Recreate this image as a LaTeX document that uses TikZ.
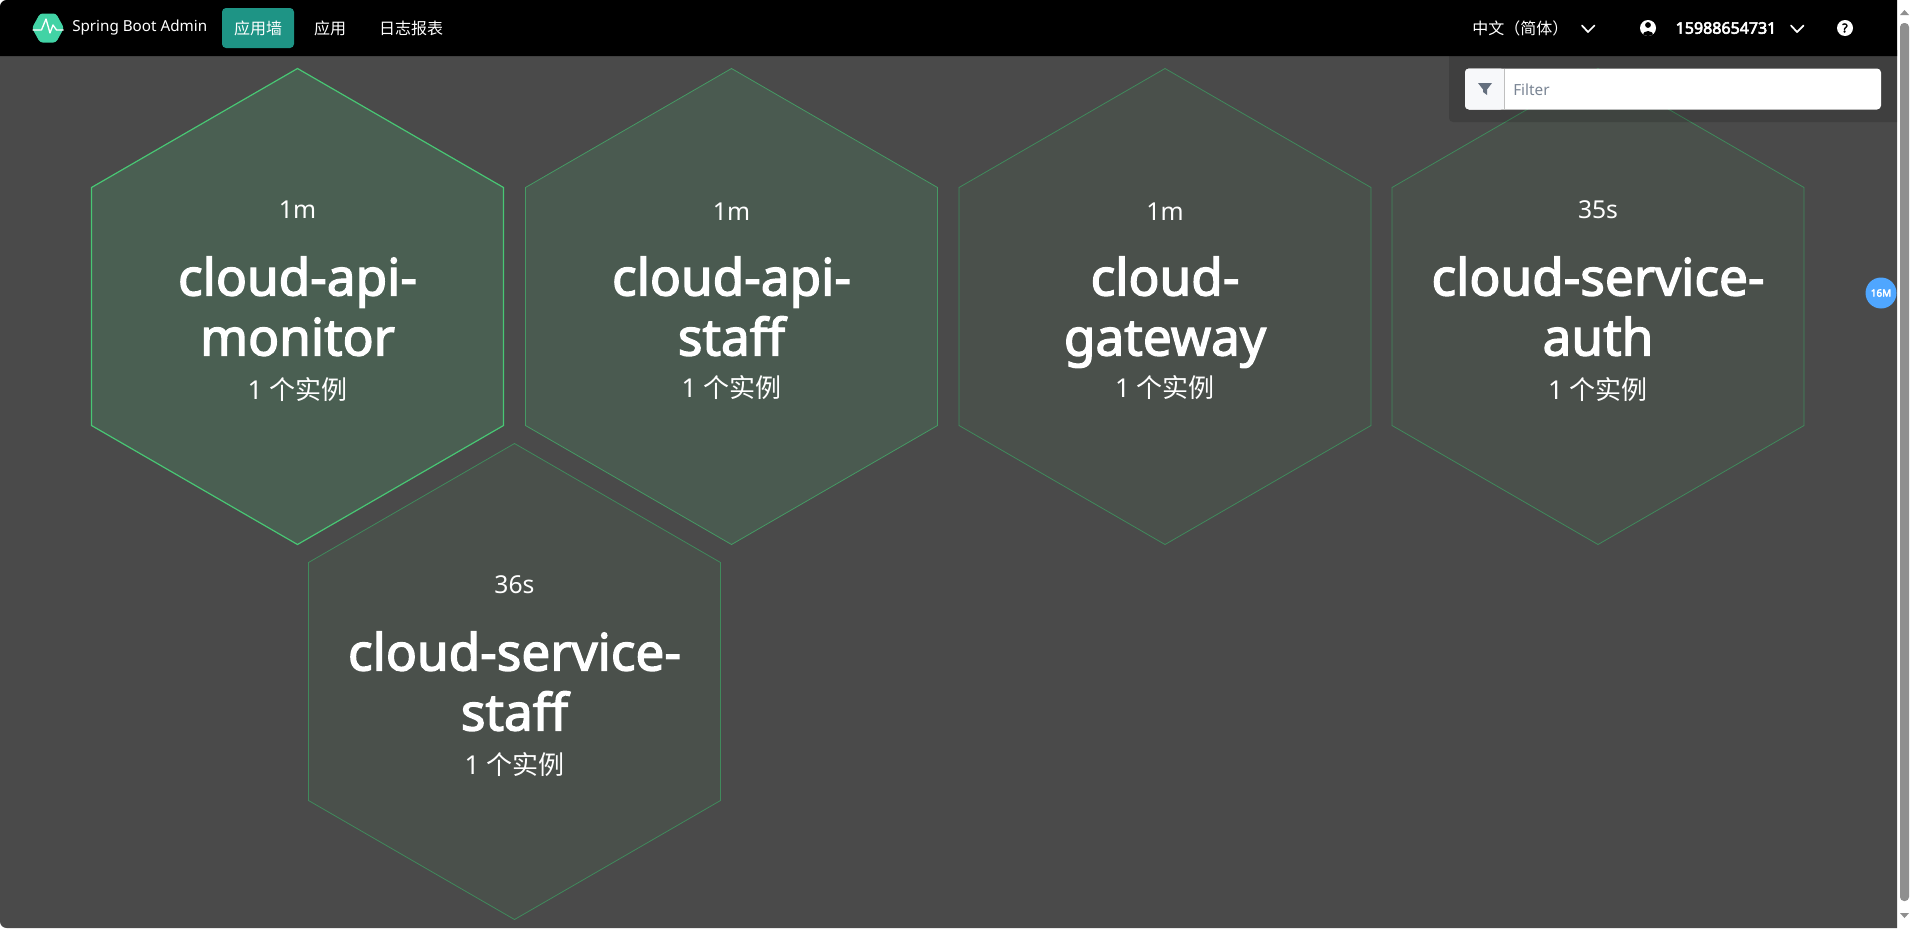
\documentclass[tikz,border=0pt]{standalone}
\usepackage{fontspec}
\setmainfont{Noto Sans}
\newfontfamily\cjk{Noto Sans CJK SC}
\newfontfamily\heavy[FakeBold=2.6]{Noto Sans}
\newfontfamily\heavier[FakeBold=3.5]{Noto Sans}
\usetikzlibrary{positioning}
\definecolor{pagebg}{HTML}{4A4A4A}
\definecolor{hexfillA}{HTML}{4A5F52}
\definecolor{hexfillB}{HTML}{4A5A50}
\definecolor{hexfillC}{HTML}{4A504B}
\definecolor{hexlineA}{HTML}{48C774}
\definecolor{hexlineB}{HTML}{459A64}
\definecolor{hexlineC}{HTML}{408A5C}
\definecolor{logogreen}{HTML}{42D3A5}
\definecolor{navactive}{HTML}{1E9485}
\definecolor{badgeblue}{HTML}{4FA6FF}
\definecolor{addonbg}{HTML}{F7F8FA}
\definecolor{funnelgrey}{HTML}{646F7E}
\definecolor{filtertext}{HTML}{7A8594}
\definecolor{thumbgrey}{HTML}{8F8F8F}
\tikzset{x=0.75pt, y=-0.75pt,
         every node/.style={inner sep=0pt, text=white},
         navtext/.style={font=\fontsize{11.4}{14}\selectfont},
         navcjk/.style={font=\fontsize{12}{14}\cjk\selectfont},
         agetext/.style={anchor=base, font=\fontsize{18.5}{22}\selectfont},
         titletext/.style={anchor=base, font=\fontsize{38.5}{45}\heavy\selectfont},
         counttext/.style={anchor=base, font=\fontsize{19.5}{23}\selectfont},
         hexA/.style={draw=hexlineA, fill=hexfillA, line width=0.9pt},
         hexB/.style={draw=hexlineB, fill=hexfillB, line width=0.6pt},
         hexC/.style={draw=hexlineC, fill=hexfillC, line width=0.6pt},
         chevron/.style={draw=white, line width=1.3pt, line cap=round, line join=round}
        }

\begin{document}
\begin{tikzpicture}
        \useasboundingbox (0, 0) rectangle (1912, 928);
        \fill [white] (0, 0) rectangle (1912, 928);
        \fill [pagebg] (0, 50) [rounded corners=5pt] -- (0, 928) [sharp corners] -- (1897, 928) -- (1897, 50) -- cycle;

        % hexagons
        \foreach \cname/\cx/\cy/\look/\first/\second/\age/\shift in {
            monitor/297.5/306.5/hexA/cloud-api-/monitor/1m/0,
            staff/731.5/306.5/hexB/cloud-api-/staff/1m/2,
            gateway/1165/306.5/hexC/cloud-/gateway/1m/2,
            auth/1598/306.5/hexC/cloud-service-/auth/35s/0,
            servicestaff/514.5/681.5/hexC/cloud-service-/staff/36s/0} {
          \draw [\look] (\cx, \cy-238) -- (\cx+206, \cy-119) -- (\cx+206, \cy+119) -- (\cx, \cy+238) -- (\cx-206, \cy+119) -- (\cx-206, \cy-119) -- cycle;
          \node [agetext] (\cname-age) at (\cx, \cy-88+\shift) {\age};
          \node [titletext] (\cname-first) at (\cx, \cy-11) {\first};
          \node [titletext] (\cname-second) at (\cx, \cy+49) {\second};
          \node [counttext] (\cname-count) at (\cx, \cy+93-\shift) {1 {\cjk 个实例}};
        }

        % top bar
        \fill [black] (0, 56) [rounded corners=5pt] -- (0, 0) [sharp corners] -- (1897, 0) -- (1897, 56) -- cycle;
        \fill [logogreen, rounded corners=2pt] (32, 28) -- (40, 13.5) -- (56, 13.5) -- (64, 28) -- (56, 42.5) -- (40, 42.5) -- cycle;
        \draw [white, line width=1pt, line join=round] (32.5, 30) -- (41.5, 30) -- (46, 19) -- (50, 33) -- (53, 25) -- (56.5, 30) -- (63.5, 30);
        \node [navtext, anchor=west] (brand) at (72, 28) {Spring Boot Admin};
        \fill [navactive, rounded corners=3pt] (222, 8) rectangle (294, 48);
        \node [navcjk] (wall) at (258, 28) {应用墙};
        \node [navcjk] (apps) at (330, 28) {应用};
        \node [navcjk] (logs) at (411, 28) {日志报表};
        \node [navcjk, anchor=west] (lang) at (1472, 28) {中文（简体）};
        \draw [chevron] (1582, 25.5) -- (1588, 32) -- (1594.5, 25.5);
        \fill [white] (1648, 28) circle (8);
        \begin{scope}
          \clip (1648, 28) circle (8);
          \fill [black] (1648, 25) circle (2.9) (1648, 35.5) ellipse (5.5 and 4.5);
        \end{scope}
        \node [font=\fontsize{12}{14}\heavier\selectfont] (phone) at (1726, 28) {15988654731};
        \draw [chevron] (1791, 25.5) -- (1797, 32) -- (1803.5, 25.5);
        \fill [white] (1845, 28) circle (8);
        \node [text=black, font=\fontsize{9}{10}\heavier\selectfont] (help) at (1845, 28) {?};

        % filter box
        \fill [black, fill opacity=0.14] (1449, 56) [rounded corners=3pt] -- (1449, 122) [sharp corners] -- (1897, 122) -- (1897, 56) -- cycle;
        \fill [white, rounded corners=3pt] (1465, 68.5) rectangle (1881, 109.5);
        \fill [addonbg, rounded corners=3pt] (1465, 68.5) rectangle (1504.5, 109.5);
        \draw [gray!50, line width=0.5pt] (1504.5, 68.5) -- (1504.5, 109.5);
        \fill [funnelgrey] (1478, 83) -- (1492, 83) -- (1487, 89.5) -- (1487, 95) -- (1483, 92) -- (1483, 89.5) -- cycle;
        \node [anchor=west, text=filtertext, font=\fontsize{11.5}{13}\selectfont] (filter) at (1513, 89.5) {Filter};

        % badge and scrollbar
        \fill [badgeblue] (1881, 293) circle (15.5);
        \node [font=\fontsize{7.5}{9}\heavier\selectfont] (memory) at (1881, 293) {16M};
        \fill [thumbgrey, rounded corners=3pt] (1900, 23) rectangle (1909, 901);
        \fill [thumbgrey] (1900, 15) -- (1909, 15) -- (1904.5, 10) -- cycle;
        \fill [thumbgrey] (1900, 913) -- (1909, 913) -- (1904.5, 918) -- cycle;
      \end{tikzpicture}
\end{document}
